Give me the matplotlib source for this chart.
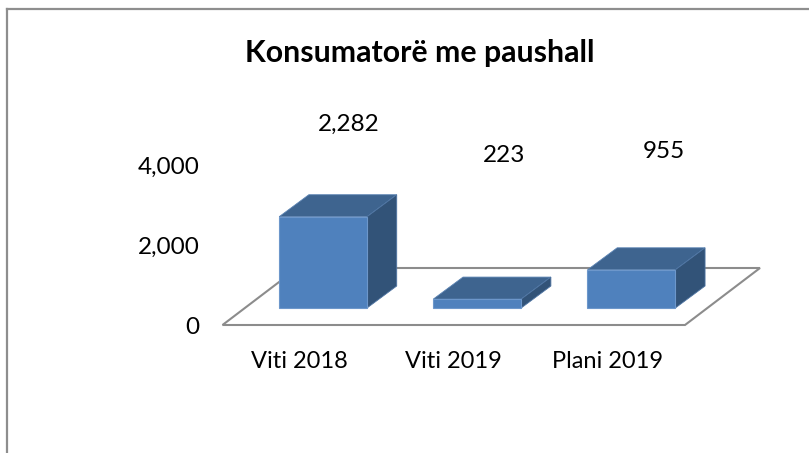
import matplotlib
matplotlib.use("Agg")
import matplotlib.pyplot as plt
from matplotlib.patches import Polygon
from matplotlib.transforms import Affine2D, IdentityTransform

categories = ["Viti 2018", "Viti 2019", "Plani 2019"]
values = [2282, 223, 955]
value_labels = ["2,282", "223", "955"]
yticks = [0, 2000, 4000]
ytick_labels = ["0", "2,000", "4,000"]

W, H = 809, 453
plt.rcParams["font.family"] = ["Lato", "DejaVu Sans"]

fig = plt.figure(figsize=(W / 100, H / 100), dpi=100)


def px(x, y):
    return x / W, 1 - y / H


# plot area = front edge of the floor, 0 to 4000 on the y scale
left, right, y0, y4000 = 222.5, 685, 325, 165
ax = fig.add_axes([left / W, 1 - y0 / H, (right - left) / W, (y0 - y4000) / H])
ax.set_xlim(-0.5, 2.5)
ax.set_ylim(0, 4000)
ax.patch.set_visible(False)
for s in ax.spines.values():
    s.set_visible(False)

ax.set_yticks(yticks)
ax.set_yticklabels(ytick_labels, fontsize=17.5, color="black")
ax.set_xticks(range(len(categories)))
ax.set_xticklabels(categories, fontsize=17, color="black")
ax.tick_params(axis="y", length=0, pad=16.5)
ax.tick_params(axis="x", length=0, pad=18.5)

# outer chart border, runs off the image on the right and at the bottom
fig.add_artist(plt.Line2D([7 / W, 7 / W], [0, 1 - 9 / H], color="#8e8e8e", lw=1.6))
fig.add_artist(plt.Line2D([7 / W, 1], [1 - 9 / H, 1 - 9 / H], color="#8e8e8e", lw=1.6))

# floor
floor_dx, floor_dy = 75, 57
floor = [(left, H - y0), (right, H - y0), (right + floor_dx, H - y0 + floor_dy), (left + floor_dx, H - y0 + floor_dy)]
ax.add_patch(Polygon(floor, closed=True, fill=False, edgecolor="#8c8c8c", lw=1.5,
                     transform=IdentityTransform(), clip_on=False, zorder=1))

# bars: front face sits inside the floor, depth is a pixel offset
bar_w = 0.57
shift_x, shift_y = 23.5, 17
depth_x, depth_y = 29.7, 22
shift = ax.transData + Affine2D().translate(shift_x, shift_y)

for i, v in enumerate(values):
    ax.bar(i, v, bar_w, color="#4f81bd", edgecolor="#6d97cb", lw=0.8, transform=shift,
           clip_on=False, zorder=4)
    x0, yb = shift.transform((i - bar_w / 2, 0))
    x1, yt = shift.transform((i + bar_w / 2, v))
    top = [(x0, yt), (x1, yt), (x1 + depth_x, yt + depth_y), (x0 + depth_x, yt + depth_y)]
    side = [(x1, yb), (x1 + depth_x, yb + depth_y), (x1 + depth_x, yt + depth_y), (x1, yt)]
    ax.add_patch(Polygon(top, closed=True, facecolor="#3e648f", edgecolor="#5b83b3", lw=0.6,
                         transform=IdentityTransform(), clip_on=False, zorder=3))
    ax.add_patch(Polygon(side, closed=True, facecolor="#325378", edgecolor="#4f75a3", lw=0.6,
                         transform=IdentityTransform(), clip_on=False, zorder=3))

# data labels float above the bars
label_pos = [(349, 124), (504, 156), (664, 152)]
for (lx, ly), t in zip(label_pos, value_labels):
    fx, fy = px(lx, ly)
    fig.text(fx, fy, t, ha="center", va="center", fontsize=17.5, color="black")

fx, fy = px(420, 53)
fig.text(fx, fy, "Konsumatorë me paushall", ha="center", va="center", fontsize=21.8,
         fontweight="bold", color="black")

fig.savefig("out.png", dpi=100, facecolor="white")
